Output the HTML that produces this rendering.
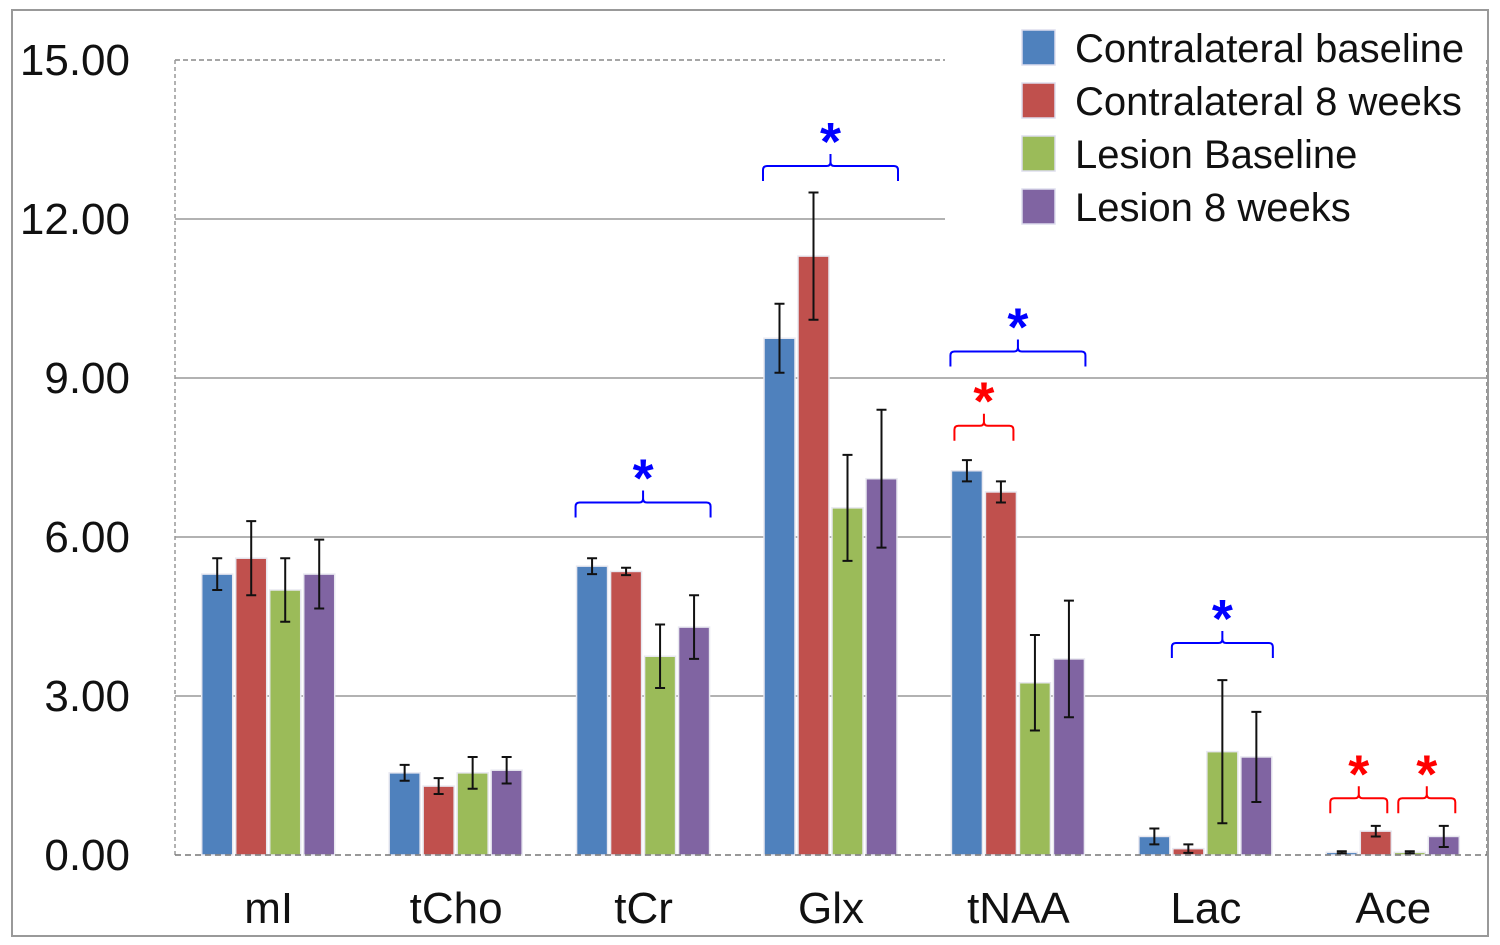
<!DOCTYPE html>
<html><head><meta charset="utf-8">
<style>
html,body{margin:0;padding:0;background:#fff;}
svg{display:block;font-family:"Liberation Sans",sans-serif;}
</style></head>
<body>
<svg id="chart" width="1500" height="945" viewBox="0 0 1500 945">
<rect x="12" y="10" width="1476" height="926" fill="#fff" stroke="#999" stroke-width="2"/>
<g id="grid"></g><g id="bars"></g><g id="err"></g><g id="ann"></g><g id="axes"></g>
<g id="legend"></g>
</svg>
<script>
const categories=["mI","tCho","tCr","Glx","tNAA","Lac","Ace"];
const seriesNames=["Contralateral baseline","Contralateral 8 weeks","Lesion Baseline","Lesion 8 weeks"];
const contraBase=[5.3,1.55,5.45,9.75,7.25,0.35,0.05];
const contra8=[5.6,1.3,5.35,11.3,6.85,0.12,0.45];
const lesionBase=[5.0,1.55,3.75,6.55,3.25,1.95,0.05];
const lesion8=[5.3,1.6,4.3,7.1,3.7,1.85,0.35];
const errCB=[0.3,0.15,0.15,0.65,0.2,0.15,0.02];
const errC8=[0.7,0.15,0.07,1.2,0.2,0.08,0.1];
const errLB=[0.6,0.3,0.6,1.0,0.9,1.35,0.02];
const errL8=[0.65,0.25,0.6,1.3,1.1,0.85,0.2];
const yTicks=[0,3,6,9,12,15];
const yTickLabels=["0.00","3.00","6.00","9.00","12.00","15.00"];
const colors=["#4f81bd","#c0504d","#9bbb59","#8064a2"];
const series=[contraBase,contra8,lesionBase,lesion8];
const errs=[errCB,errC8,errLB,errL8];
// annotations: [category index, first series, last series, color, level, inset]
const brackets=[[2,0,3,"#0000ff",6.65,0],[3,0,3,"#0000ff",13.0,0],[4,0,3,"#0000ff",9.5,0],[4,0,1,"#ff0000",8.1,4],[5,1,3,"#0000ff",4.0,0],[6,0,1,"#ff0000",1.07,5],[6,2,3,"#ff0000",1.07,5]];
const NS="http://www.w3.org/2000/svg";
const X0=175,X1=1487,Y0=855,Y15=60;
const y=v=>Y0-(v/15)*(Y0-Y15);
const gw=(X1-X0)/categories.length;
const gc=i=>X0+gw*(i+0.5);
const bx=(i,s)=>gc(i)-67+s*34;
function el(tag,attrs,parent){const e=document.createElementNS(NS,tag);for(const k in attrs)e.setAttribute(k,attrs[k]);document.getElementById(parent).appendChild(e);return e;}
yTicks.forEach((t,k)=>{
  if(t>0){const g=el("line",{x1:X0,x2:(t>=12?945:X1),y1:y(t),y2:y(t),stroke:t==15?"#888":"#999","stroke-width":1.5,"stroke-dasharray":t==15?"5,3":""},"grid");
  
  }
  const tx=el("text",{x:130,y:y(t)+15,"text-anchor":"end","font-size":44,fill:"#111"},"axes");
  tx.textContent=yTickLabels[k];
  
  
});
el("line",{x1:X0,x2:X0,y1:Y15,y2:Y0,stroke:"#999","stroke-width":1.5,"stroke-dasharray":"4,3"},"axes");
el("line",{x1:X1,x2:X1,y1:Y15,y2:Y0,stroke:"#999","stroke-width":2,"stroke-dasharray":"4,3"},"axes");
const xa=el("line",{x1:X0,x2:X1,y1:Y0,y2:Y0,stroke:"#777","stroke-width":1.5,"stroke-dasharray":"6,4"},"axes");


categories.forEach((c,i)=>{
  const t=el("text",{x:gc(i),y:923,"text-anchor":"middle","font-size":44,fill:"#111"},"axes");
  t.textContent=c;
  
  
  series.forEach((s,k)=>{
    const v=s[i];
    const b=el("rect",{x:bx(i,k),y:y(v),width:31,height:Y0-y(v),fill:colors[k],stroke:"#e8e8f0","stroke-width":1.5},"bars");
    
    
    const cx=bx(i,k)+15.5,e=errs[k][i];
    const p=el("path",{d:`M${cx} ${y(v+e)}V${y(v-e)}M${cx-5} ${y(v+e)}h10M${cx-5} ${y(v-e)}h10`,stroke:"#111","stroke-width":2,fill:"none"},"err");
    
    
  });
});
brackets.forEach(([i,a,b,col,lv,ins])=>{
  const x1=bx(i,a)-1+ins,x2=bx(i,b)+32-ins,cx=(x1+x2)/2,yt=y(lv);
  const p=el("path",{d:`M${x1} ${yt+15}V${yt+4}Q${x1} ${yt} ${x1+4} ${yt}H${cx-4}Q${cx} ${yt} ${cx} ${yt-4}V${yt-12}M${cx} ${yt-4}Q${cx} ${yt} ${cx+4} ${yt}H${x2-4}Q${x2} ${yt} ${x2} ${yt+4}V${yt+15}`,stroke:col,"stroke-width":2,fill:"none"},"ann");
  
  
  const s=el("text",{x:cx,y:yt-6,"text-anchor":"middle","font-size":54,"font-weight":"bold",fill:col},"ann");
  s.textContent="*";
  
  
});
el("rect",{x:1010,y:22,width:470,height:215,fill:"#fff"},"legend");
seriesNames.forEach((n,k)=>{
  const yy=30+k*53;
  const r=el("rect",{x:1022,y:yy,width:33,height:35,fill:colors[k],stroke:"#dde","stroke-width":1.5},"legend");
  
  
  const t=el("text",{x:1075,y:yy+32,"font-size":40,fill:"#111"},"legend");
  t.textContent=n;
  
  
});
</script>
</body></html>
